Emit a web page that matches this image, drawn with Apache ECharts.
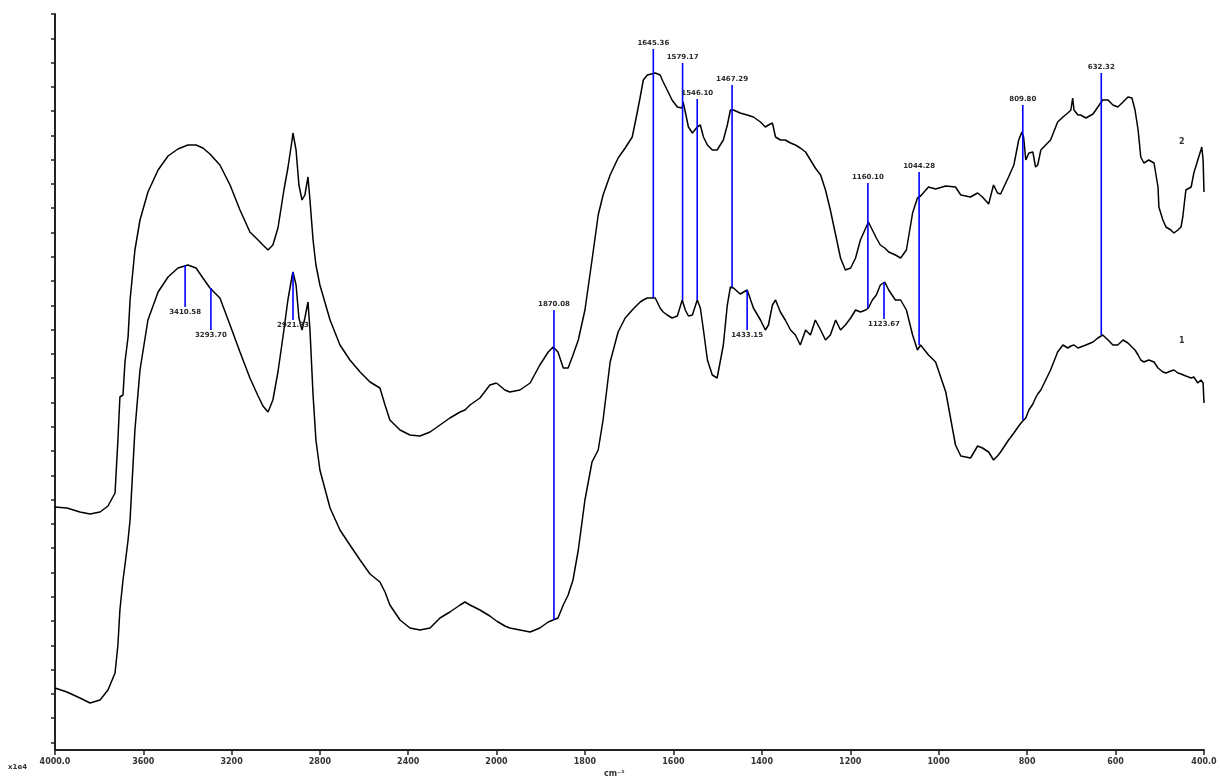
<!DOCTYPE html>
<html>
<head>
<meta charset="utf-8">
<script src="https://cdn.jsdelivr.net/npm/echarts@6/dist/echarts.min.js"></script>
<style>
  html, body { margin: 0; padding: 0; background: #fff; }
  #chart { width: 1220px; height: 778px; }
</style>
</head>
<body>
<div id="chart"></div>
<script>
// Wavenumbers (cm-1) shared by both traces
const wavenumbers = [
  4000, 3946, 3887, 3841, 3796, 3760, 3728, 3715, 3706, 3692, 3683, 3669, 3660, 3638, 3615, 3579,
  3533, 3488, 3443, 3398, 3361, 3330, 3298, 3253, 3207, 3162, 3117, 3080, 3058, 3035, 3013, 2990,
  2963, 2945, 2926, 2922, 2908, 2895, 2881, 2868, 2854, 2845, 2831, 2818, 2800, 2754, 2709, 2664,
  2618, 2573, 2528, 2505, 2483, 2437, 2392, 2347, 2301, 2256, 2211, 2165, 2143, 2120, 2075, 2030,
  2000, 1981, 1970, 1947, 1924, 1902, 1883, 1872, 1861, 1849, 1838, 1827, 1815, 1800, 1784, 1770,
  1759, 1743, 1725, 1709, 1693, 1682, 1675, 1668, 1659, 1641, 1630, 1623, 1614, 1603, 1591, 1580,
  1578, 1573, 1566, 1557, 1546, 1539, 1532, 1523, 1512, 1501, 1487, 1478, 1471, 1464, 1449, 1433,
  1419, 1403, 1392, 1385, 1376, 1369, 1358, 1347, 1335, 1324, 1313, 1301, 1290, 1279, 1267, 1256,
  1245, 1233, 1222, 1211, 1199, 1188, 1177, 1165, 1159, 1150, 1141, 1132, 1122, 1113, 1098, 1086,
  1073, 1059, 1048, 1041, 1023, 1007, 984, 962, 950, 928, 912, 901, 887, 876, 867, 860,
  842, 830, 819, 812, 808, 803, 796, 787, 781, 776, 769, 747, 731, 719, 708, 701,
  697, 694, 685, 679, 667, 651, 640, 629, 617, 606, 595, 583, 572, 563, 556, 549,
  543, 536, 525, 513, 504, 502, 493, 486, 475, 468, 459, 452, 448, 441, 429, 423,
  414, 407, 405, 402, 400
];

// Trace 1 (lower spectrum)
const spectrum1 = [
  6.2, 5.8, 5.2, 4.7, 5.0, 6.0, 7.7, 10.5, 14.0, 17.0, 18.5, 21.0, 23.0, 32.0, 38.0, 43.0,
  45.8, 47.3, 48.2, 48.5, 48.2, 47.2, 46.2, 45.2, 42.5, 39.8, 37.2, 35.4, 34.4, 33.8, 35.0, 37.8,
  42.0, 45.0, 47.4, 47.8, 46.5, 43.2, 42.0, 43.2, 44.8, 42.0, 35.5, 31.0, 28.0, 24.2, 22.0, 20.5,
  19.0, 17.6, 16.8, 15.8, 14.5, 13.0, 12.2, 12.0, 12.2, 13.2, 13.8, 14.5, 14.8, 14.5, 14.0, 13.4,
  12.9, 12.4, 12.2, 12.0, 11.8, 12.2, 12.8, 13.0, 13.2, 14.5, 15.5, 17.0, 20.0, 25.0, 28.8, 30.0,
  33.0, 38.8, 41.8, 43.2, 44.0, 44.5, 44.8, 45.0, 45.2, 45.2, 44.2, 43.8, 43.5, 43.2, 43.4, 45.0,
  44.8, 44.0, 43.4, 43.5, 45.0, 44.2, 42.0, 39.0, 37.5, 37.2, 40.5, 44.5, 46.3, 46.2, 45.6, 46.0,
  44.2, 43.0, 42.0, 42.5, 44.5, 45.0, 43.8, 43.0, 42.0, 41.5, 40.5, 42.0, 41.5, 43.0, 42.0, 41.0,
  41.5, 43.0, 42.0, 42.5, 43.2, 44.0, 43.8, 44.0, 44.2, 45.0, 45.5, 46.5, 46.8, 46.0, 45.0, 45.0,
  44.0, 41.5, 40.0, 40.5, 39.5, 38.8, 35.8, 30.5, 29.4, 29.2, 30.4, 30.2, 29.8, 29.0, 29.4, 29.8,
  31.0, 31.7, 32.4, 32.8, 33.0, 33.2, 34.0, 34.6, 35.2, 35.6, 36.0, 38.0, 39.8, 40.5, 40.2, 40.4,
  40.5, 40.5, 40.2, 40.3, 40.5, 40.8, 41.2, 41.5, 41.0, 40.5, 40.5, 41.0, 40.7, 40.3, 40.0, 39.5,
  39.0, 38.8, 39.0, 38.8, 38.2, 38.0, 37.8, 37.7, 37.9, 38.0, 37.7, 37.6, 37.5, 37.4, 37.2, 37.3,
  36.7, 37.0, 36.9, 36.7, 34.7
];

// Trace 2 (upper spectrum)
const spectrum2 = [
  24.3, 24.2, 23.8, 23.6, 23.8, 24.4, 25.7, 31.0, 35.3, 35.5, 38.8, 41.3, 45.0, 50.0, 53.0, 55.8,
  58.0, 59.4, 60.1, 60.5, 60.5, 60.2, 59.6, 58.5, 56.5, 54.0, 51.8, 51.0, 50.5, 50.0, 50.5, 52.2,
  56.0, 58.2, 61.0, 61.7, 60.0, 56.5, 55.0, 55.5, 57.3, 55.0, 51.0, 48.5, 46.5, 43.0, 40.5, 39.0,
  37.8, 36.8, 36.2, 34.5, 33.0, 32.0, 31.5, 31.4, 31.8, 32.5, 33.2, 33.8, 34.0, 34.5, 35.2, 36.5,
  36.7, 36.0, 35.8, 36.0, 36.7, 38.5, 39.8, 40.3, 39.8, 38.2, 38.2, 39.5, 41.0, 44.0, 49.0, 53.5,
  55.5, 57.5, 59.2, 60.2, 61.3, 63.7, 65.3, 67.0, 67.5, 67.7, 67.5, 66.8, 66.0, 65.0, 64.3, 64.2,
  64.8, 63.8, 62.3, 61.7, 62.3, 62.5, 61.3, 60.5, 60.0, 60.0, 61.0, 62.5, 64.0, 64.0, 63.7, 63.5,
  63.3, 62.8, 62.3, 62.5, 62.7, 61.3, 61.0, 61.0, 60.7, 60.5, 60.2, 59.8, 59.0, 58.2, 57.5, 56.0,
  54.0, 51.5, 49.2, 48.0, 48.2, 49.2, 51.0, 52.2, 52.8, 52.0, 51.2, 50.5, 50.2, 49.8, 49.5, 49.2,
  50.0, 53.7, 55.2, 55.4, 56.3, 56.1, 56.4, 56.3, 55.5, 55.3, 55.7, 55.3, 54.6, 56.5, 55.7, 55.6,
  57.3, 58.5, 61.0, 61.8, 61.3, 59.0, 59.7, 59.8, 58.3, 58.5, 60.0, 61.0, 62.8, 63.3, 63.7, 64.0,
  65.2, 64.0, 63.5, 63.5, 63.2, 63.6, 64.3, 65.0, 65.0, 64.5, 64.3, 64.8, 65.3, 65.2, 64.0, 62.0,
  59.3, 58.7, 59.0, 58.7, 56.3, 54.3, 53.0, 52.3, 52.0, 51.7, 52.0, 52.3, 53.3, 56.0, 56.3, 57.7,
  59.0, 60.0, 60.3, 59.0, 55.8
];

// Picked peaks of trace 1
const peakWavenumbers = [3410.58, 3293.70, 2921.83, 1870.08, 1645.36, 1579.17, 1546.10,
                         1467.29, 1433.15, 1160.10, 1123.67, 1044.28, 809.80, 632.32];
const peakValues = [48.5, 46.2, 47.8, 13.0, 45.2, 45.0, 45.0, 46.3, 46.0, 44.2, 46.8, 40.5, 33.0, 41.5];

// Stem length of each peak marker in px (positive: label above, negative: label below)
const peakStemPx = [-42, -42, -48, 310, 249, 237, 201, 202, -40, 125, -37, 173, 315, 262];

// Axis ticks
const xTicksHigh = [4000, 3600, 3200, 2800, 2400, 2000];
const xTicksLow = [2000, 1800, 1600, 1400, 1200, 1000, 800, 600, 400];
const yTicks = [73.6, 71.17, 68.74, 66.32, 63.89, 61.46, 59.03, 56.60, 54.18, 51.75, 49.32,
                46.89, 44.46, 42.04, 39.61, 37.18, 34.75, 32.32, 29.90, 27.47, 25.04, 22.61,
                20.18, 17.76, 15.33, 12.90, 10.47, 8.04, 5.62, 3.19, 0.76];

const Y_MIN = 0, Y_MAX = 73.6;
const AXIS_COLOR = '#222';
const LABEL_FONT = 'DejaVu Sans';

function pairs(values, keep) {
  const out = [];
  for (let i = 0; i < wavenumbers.length; i++) {
    if (keep(wavenumbers[i])) out.push([wavenumbers[i], values[i]]);
  }
  return out;
}
const isHigh = w => w >= 2000;
const isLow = w => w <= 2000;

function traceSeries(values, gridIdx, keep) {
  return {
    type: 'line',
    xAxisIndex: gridIdx,
    yAxisIndex: gridIdx,
    data: pairs(values, keep),
    showSymbol: false,
    symbol: 'none',
    animation: false,
    lineStyle: { color: '#000', width: 1.5 },
    z: 3
  };
}

function peakSeries(gridIdx, keep) {
  const data = [];
  peakWavenumbers.forEach((w, i) => { if (keep(w)) data.push([w, peakValues[i], i]); });
  return {
    type: 'custom',
    xAxisIndex: gridIdx,
    yAxisIndex: gridIdx,
    clip: false,
    animation: false,
    z: 4,
    encode: { x: 0, y: 1 },
    data: data,
    renderItem: function (params, api) {
      const p = api.coord([api.value(0), api.value(1)]);
      const idx = api.value(2);
      const stem = peakStemPx[idx];
      const yEnd = p[1] - stem;
      const up = stem > 0;
      return {
        type: 'group',
        children: [
          {
            type: 'line',
            shape: { x1: p[0], y1: p[1], x2: p[0], y2: yEnd },
            style: { stroke: '#0000ff', lineWidth: 1.6 }
          },
          {
            type: 'text',
            x: p[0],
            y: up ? yEnd - 2 : yEnd + 2,
            style: {
              text: peakWavenumbers[idx].toFixed(2),
              fill: '#2a2a2a',
              font: 'bold 7px ' + LABEL_FONT,
              align: 'center',
              verticalAlign: up ? 'bottom' : 'top'
            }
          }
        ]
      };
    }
  };
}

const axisLine = { show: true, lineStyle: { color: AXIS_COLOR, width: 2 } };
const xLabel = { color: '#333', fontSize: 8, fontFamily: LABEL_FONT, fontWeight: 'bold', margin: 8 };

const option = {
  backgroundColor: '#fff',
  animation: false,
  grid: [
    { left: 55, top: 14, width: 441.5, height: 736 },
    { left: 496.5, top: 14, width: 707.5, height: 736 }
  ],
  xAxis: [
    {
      type: 'value', gridIndex: 0, min: 2000, max: 4000, interval: 400, inverse: true,
      axisLine: axisLine,
      axisTick: { show: true, inside: false, length: 5, lineStyle: { color: AXIS_COLOR, width: 1.5 }, customValues: xTicksHigh },
      axisLabel: Object.assign({}, xLabel, {
        customValues: xTicksHigh,
        formatter: v => v === 4000 ? '4000.0' : (v === 2000 ? '' : String(v))
      }),
      splitLine: { show: false }
    },
    {
      type: 'value', gridIndex: 1, min: 400, max: 2000, interval: 200, inverse: true,
      axisLine: axisLine,
      axisTick: { show: true, inside: false, length: 5, lineStyle: { color: AXIS_COLOR, width: 1.5 }, customValues: xTicksLow },
      axisLabel: Object.assign({}, xLabel, {
        customValues: xTicksLow,
        formatter: v => v === 400 ? '400.0' : String(v)
      }),
      splitLine: { show: false }
    }
  ],
  yAxis: [
    {
      type: 'value', gridIndex: 0, min: Y_MIN, max: Y_MAX,
      axisLine: axisLine,
      axisTick: { show: true, inside: false, length: 4, lineStyle: { color: AXIS_COLOR, width: 1.5 }, customValues: yTicks },
      axisLabel: { show: false },
      splitLine: { show: false }
    },
    {
      type: 'value', gridIndex: 1, min: Y_MIN, max: Y_MAX, show: false,
      splitLine: { show: false }
    }
  ],
  graphic: [
    { type: 'text', left: 8, top: 764, style: { text: 'x1e4', fill: '#333', font: 'bold 7px ' + LABEL_FONT } },
    { type: 'text', left: 604, top: 770, style: { text: 'cm⁻¹', fill: '#333', font: 'bold 8px ' + LABEL_FONT } },
    { type: 'text', left: 1179, top: 138, style: { text: '2', fill: '#333', font: 'bold 8px ' + LABEL_FONT } },
    { type: 'text', left: 1179, top: 337, style: { text: '1', fill: '#333', font: 'bold 8px ' + LABEL_FONT } }
  ],
  series: [
    traceSeries(spectrum2, 0, isHigh),
    traceSeries(spectrum2, 1, isLow),
    traceSeries(spectrum1, 0, isHigh),
    traceSeries(spectrum1, 1, isLow),
    peakSeries(0, w => w >= 2000),
    peakSeries(1, w => w < 2000)
  ]
};

const chart = echarts.init(document.getElementById('chart'), null, { renderer: 'canvas' });
chart.setOption(option);
</script>
</body>
</html>
